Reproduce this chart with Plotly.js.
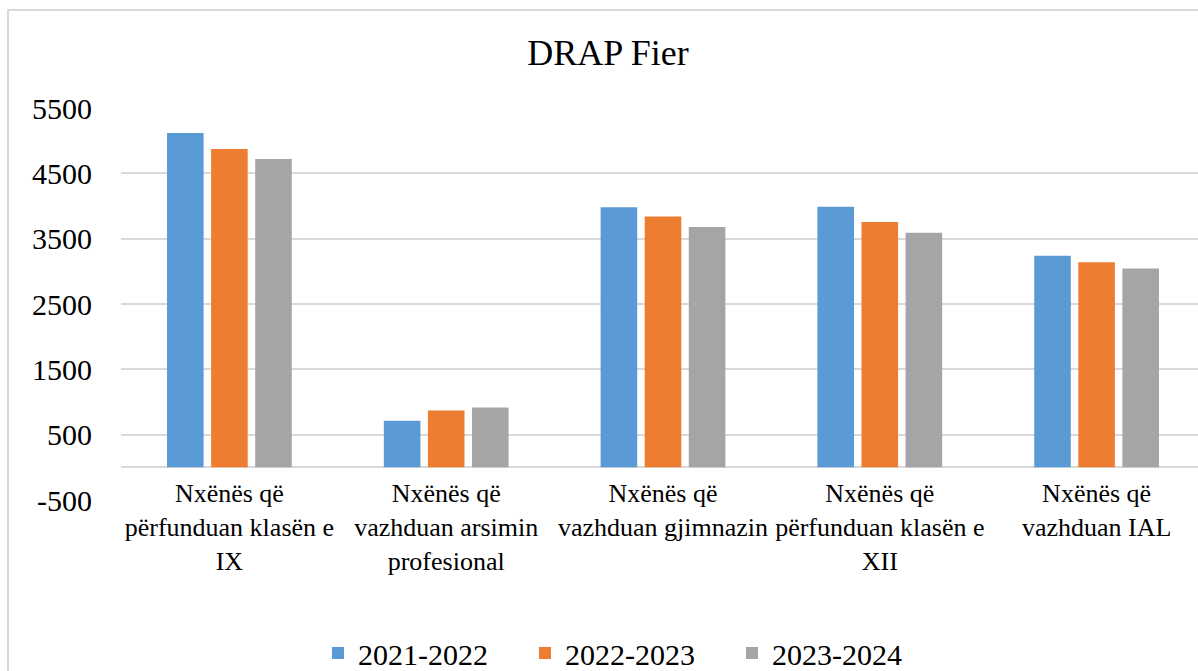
<!DOCTYPE html>
<html>
<head>
<meta charset="utf-8">
<script src="https://cdn.plot.ly/plotly-3.0.1.min.js"></script>
<style>
  html, body { margin: 0; padding: 0; width: 1198px; height: 671px; overflow: hidden; background: #fff; }
  #chart { position: absolute; left: 0; top: 0; }
  #frame { position: absolute; left: 7px; top: 9px; width: 1200px; height: 700px;
           border-left: 2px solid #d9d9d9; border-top: 2px solid #d9d9d9; pointer-events: none; }
</style>
</head>
<body>
<div id="chart"></div>
<div id="frame"></div>
<script>
const categories = [
  "Nxënës që<br>përfunduan klasën e<br>IX",
  "Nxënës që<br>vazhduan arsimin<br>profesional",
  "Nxënës që<br>vazhduan gjimnazin",
  "Nxënës që<br>përfunduan klasën e<br>XII",
  "Nxënës që<br>vazhduan IAL"
];
const seriesNames = ["2021-2022", "2022-2023", "2023-2024"];
const values2021 = [5117, 712, 3980, 3990, 3240];
const values2022 = [4872, 870, 3840, 3757, 3140];
const values2023 = [4719, 915, 3680, 3592, 3042];
const yTicks = [-500, 500, 1500, 2500, 3500, 4500, 5500];

const colors = ["#5b9bd5", "#ed7d31", "#a5a5a5"];
const allValues = [values2021, values2022, values2023];
const serif = "Liberation Serif, DejaVu Serif, serif";

const traces = seriesNames.map((name, i) => ({
  type: "bar",
  name: name,
  x: categories,
  y: allValues[i],
  marker: { color: colors[i], line: { width: 0 } },
  hoverinfo: "x+y+name"
}));

const layout = {
  width: 1215,
  height: 671,
  margin: { l: 121, r: 10, t: 108, b: 171, pad: 0 },
  paper_bgcolor: "rgba(0,0,0,0)",
  plot_bgcolor: "rgba(0,0,0,0)",
  font: { family: serif, color: "#000" },
  title: {
    text: "DRAP Fier",
    font: { family: serif, size: 36, color: "#000" },
    x: 608 / 1215, xref: "container", xanchor: "center",
    y: 1 - 52 / 671, yref: "container", yanchor: "middle"
  },
  barmode: "group",
  bargap: 0.39,
  bargroupgap: 0.17,
  xaxis: {
    type: "category",
    anchor: "free",
    position: 500 / 6000,
    showline: false,
    showgrid: false,
    ticks: "",
    tickangle: 0,
    tickfont: { family: serif, size: 26, color: "#000" },
    ticklabelstandoff: 8,
    automargin: false
  },
  yaxis: {
    range: [-500, 5500],
    tickvals: yTicks,
    ticktext: yTicks.map(String),
    showgrid: true,
    gridcolor: "#d9d9d9",
    gridwidth: 2,
    zeroline: true,
    zerolinecolor: "#d9d9d9",
    zerolinewidth: 2,
    showline: false,
    ticks: "",
    tickfont: { family: serif, size: 30, color: "#000" },
    ticklabelstandoff: 28,
    automargin: false
  },
  showlegend: true,
  legend: {
    orientation: "h",
    xref: "container", x: 318 / 1215, xanchor: "left",
    yref: "container", y: 1 - 653 / 671, yanchor: "middle",
    font: { family: serif, size: 30, color: "#000" },
    entrywidth: 162,
    entrywidthmode: "pixels",
    bgcolor: "rgba(0,0,0,0)",
    borderwidth: 0,
    traceorder: "normal"
  }
};

Plotly.newPlot("chart", traces, layout, { displayModeBar: false, staticPlot: true });
</script>
</body>
</html>
